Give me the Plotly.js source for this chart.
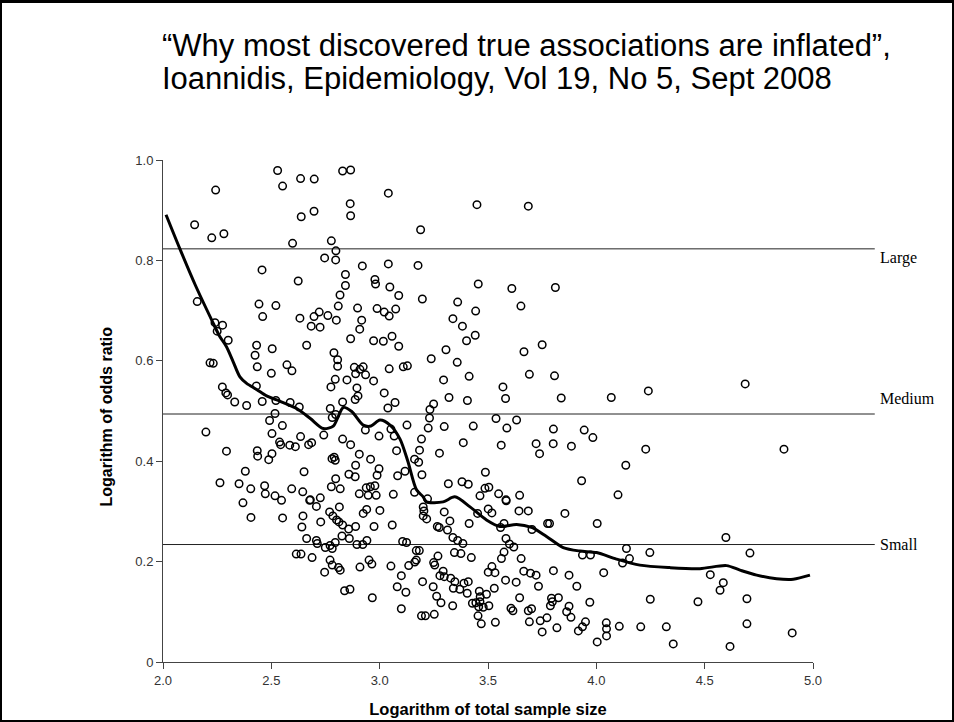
<!DOCTYPE html>
<html>
<head>
<meta charset="utf-8">
<script src="https://cdn.plot.ly/plotly-3.0.1.min.js"></script>
<style>
  html, body { margin: 0; padding: 0; background: #fff; }
  #wrap { position: relative; width: 954px; height: 722px; }
  #chart { width: 954px; height: 722px; }
  #frame { position: absolute; left: 0; top: 0; width: 954px; height: 722px; box-sizing: border-box;
           border-top: 3px solid #000; border-left: 2px solid #000; border-right: 2px solid #000; border-bottom: 2px solid #000; pointer-events: none; }
</style>
</head>
<body>
<div id="wrap"><div id="chart"></div><div id="frame"></div></div>
<script>
// Each study: log10 total sample size (x) and log odds ratio (y)
const sampleSizeLog = [
3.088,2.529,2.243,2.552,2.635,2.698,2.829,2.866,3.040,2.146,2.225,2.281,2.638,2.697,2.864,2.866,2.598,2.777,2.798,2.746,
2.797,2.920,3.040,2.457,2.624,2.842,2.842,2.978,2.981,3.047,3.088,2.817,2.158,2.443,2.521,2.809,2.898,2.988,3.021,3.044,
3.074,2.460,2.632,2.697,2.721,2.761,2.800,2.917,
3.449,3.686,3.189,3.177,3.455,3.610,3.811,3.197,3.360,3.443,3.652,3.338,
2.240,2.275,2.250,2.301,2.684,2.725,2.908,2.866,2.972,3.017,3.057,3.088,2.432,2.504,2.663,2.425,2.435,2.500,2.572,2.595,
2.217,2.232,2.789,2.806,2.806,2.883,2.924,2.909,2.889,2.935,3.044,2.795,2.849,2.972,2.775,2.895,2.900,2.887,3.021,3.071,
3.038,2.829,2.772,2.274,2.290,2.298,2.331,2.386,2.431,2.458,2.521,2.587,2.629,2.517,2.492,2.551,2.503,2.198,2.538,2.543,
2.585,2.611,2.635,2.672,2.686,2.742,2.781,2.797,2.829,2.866,2.934,2.997,3.052,3.067,3.078,2.293,2.435,2.437,2.503,2.488,
2.780,2.790,2.795,2.906,2.958,2.889,2.997,2.988,2.380,2.651,2.797,2.858,2.887,3.083,2.263,2.351,2.405,2.469,2.472,2.517,
2.594,2.645,2.726,2.680,2.777,2.818,2.906,2.938,2.957,2.978,2.947,2.984,3.063,2.547,
3.382,3.441,3.401,3.306,3.238,3.358,3.109,3.128,3.666,3.750,3.691,3.807,3.295,3.413,3.569,3.320,3.405,3.581,3.838,4.069,
3.249,3.232,3.230,3.126,3.224,3.298,3.432,3.537,3.632,3.587,3.802,3.944,3.984,3.193,3.386,3.561,3.722,3.801,3.738,3.885,
3.184,3.276,3.161,3.180,3.117,3.195,4.136,3.488,3.932,3.317,3.380,3.409,3.486,3.504,3.549,3.463,3.646,3.161,4.100,3.583,
4.240,4.687,4.228,4.866,
2.369,2.406,2.552,2.677,2.708,2.646,2.641,2.769,2.784,2.814,2.801,2.812,2.728,2.829,2.857,2.889,2.924,2.940,3.001,2.974,
3.058,2.663,2.708,2.712,2.749,2.771,2.781,2.795,2.826,2.860,2.895,2.922,2.941,2.615,2.637,2.688,2.771,2.781,2.810,2.818,
2.746,2.909,2.951,2.964,3.052,2.838,2.863,2.966,3.081,3.100,3.100,
3.221,3.201,3.204,3.201,3.217,3.298,3.324,3.266,3.275,3.313,3.413,3.584,3.643,3.686,3.501,3.518,3.452,3.855,3.574,3.558,
3.703,3.775,3.784,4.004,3.106,3.124,3.338,3.360,3.384,3.583,3.599,3.619,3.169,3.183,3.345,3.375,3.269,3.169,3.162,3.423,
3.574,3.562,3.653,3.936,3.973,4.139,4.153,4.121,3.134,3.249,3.254,3.293,3.278,3.298,3.328,3.347,3.340,3.370,3.389,3.409,
3.404,3.198,3.247,3.121,3.263,3.283,3.337,3.193,3.211,3.252,3.460,3.464,3.463,3.493,3.428,3.444,3.457,3.478,3.504,3.454,
3.469,3.534,3.529,3.501,3.518,3.532,3.581,3.630,3.665,3.696,3.722,3.733,3.802,3.874,3.910,4.034,3.646,3.606,3.615,3.686,
3.701,3.793,3.797,3.788,3.825,3.874,3.863,3.883,3.970,3.691,3.741,3.772,3.750,3.818,3.917,3.936,3.950,4.004,4.046,4.047,
4.047,4.106,4.205,
4.598,4.247,4.709,4.526,4.586,4.571,4.249,4.469,4.695,4.323,4.695,4.904,4.355,4.617
];
const oddsRatioLog = [
1.011,0.979,0.940,0.948,0.963,0.962,0.978,0.980,0.934,0.871,0.845,0.853,0.887,0.898,0.913,0.889,0.834,0.839,0.819,0.805,
0.801,0.789,0.793,0.781,0.759,0.772,0.750,0.762,0.753,0.747,0.730,0.731,0.718,0.713,0.710,0.709,0.705,0.704,0.697,0.689,
0.703,0.688,0.685,0.688,0.697,0.690,0.681,0.681,
0.911,0.908,0.861,0.790,0.753,0.744,0.746,0.723,0.717,0.699,0.709,0.684,
0.676,0.671,0.659,0.641,0.669,0.667,0.663,0.644,0.640,0.639,0.649,0.629,0.631,0.624,0.631,0.611,0.588,0.575,0.592,0.580,
0.596,0.595,0.616,0.602,0.589,0.587,0.588,0.583,0.574,0.572,0.584,0.563,0.562,0.560,0.548,0.546,0.530,0.523,0.536,0.517,
0.506,0.518,0.505,0.548,0.536,0.532,0.518,0.511,0.550,0.519,0.521,0.517,0.508,0.495,0.481,0.471,0.455,0.458,0.438,0.433,
0.432,0.429,0.449,0.433,0.437,0.452,0.487,0.493,0.444,0.433,0.462,0.450,0.464,0.450,0.421,0.420,0.421,0.410,0.415,0.403,
0.405,0.408,0.402,0.414,0.404,0.392,0.385,0.372,0.380,0.379,0.365,0.374,0.369,0.371,0.357,0.355,0.345,0.351,0.335,0.331,
0.345,0.339,0.327,0.323,0.349,0.345,0.335,0.347,0.349,0.351,0.332,0.332,0.334,0.322,
0.669,0.651,0.640,0.622,0.604,0.597,0.588,0.590,0.618,0.632,0.573,0.570,0.562,0.569,0.548,0.527,0.521,0.525,0.526,0.527,
0.514,0.503,0.486,0.472,0.466,0.469,0.470,0.485,0.482,0.466,0.464,0.462,0.447,0.444,0.437,0.432,0.435,0.435,0.415,0.430,
0.422,0.416,0.404,0.398,0.380,0.373,0.392,0.378,0.361,0.355,0.359,0.354,0.346,0.348,0.335,0.331,0.332,0.338,0.333,0.323,
0.540,0.554,0.424,0.424,
0.317,0.288,0.287,0.322,0.310,0.291,0.269,0.299,0.291,0.309,0.283,0.279,0.279,0.273,0.265,0.270,0.296,0.304,0.302,0.270,
0.273,0.246,0.242,0.236,0.228,0.232,0.226,0.238,0.251,0.246,0.234,0.234,0.242,0.215,0.215,0.208,0.203,0.193,0.188,0.183,
0.179,0.189,0.203,0.195,0.191,0.142,0.145,0.128,0.150,0.172,0.106,
0.325,0.309,0.301,0.291,0.285,0.299,0.281,0.270,0.268,0.263,0.276,0.321,0.301,0.301,0.305,0.297,0.296,0.296,0.276,0.268,
0.264,0.276,0.276,0.276,0.240,0.238,0.248,0.242,0.236,0.246,0.235,0.229,0.222,0.222,0.218,0.216,0.211,0.203,0.199,0.208,
0.219,0.206,0.206,0.213,0.213,0.226,0.206,0.197,0.192,0.198,0.193,0.181,0.172,0.170,0.167,0.160,0.147,0.145,0.157,0.160,
0.137,0.160,0.150,0.139,0.131,0.118,0.112,0.092,0.092,0.095,0.141,0.130,0.120,0.135,0.117,0.118,0.110,0.109,0.112,0.092,
0.076,0.079,0.147,0.179,0.190,0.178,0.163,0.159,0.181,0.177,0.173,0.151,0.182,0.173,0.151,0.178,0.128,0.107,0.102,0.102,
0.106,0.127,0.120,0.112,0.128,0.111,0.100,0.089,0.119,0.080,0.082,0.088,0.060,0.068,0.062,0.070,0.080,0.040,0.078,0.066,
0.052,0.071,0.070,
0.248,0.218,0.217,0.174,0.158,0.143,0.125,0.120,0.126,0.070,0.076,0.058,0.036,0.031
];

// Smoothed (loess) curve
const smoothX = [2.014,2.078,2.150,2.225,2.260,2.293,2.324,2.355,2.386,2.432,2.478,2.525,2.617,2.680,2.740,2.786,2.810,2.832,2.871,2.924,
  2.960,3.001,3.048,3.094,3.130,3.170,3.201,3.216,3.293,3.347,3.417,3.493,3.555,3.632,3.701,3.770,3.847,3.924,4.001,4.093,
  4.201,4.340,4.478,4.601,4.663,4.740,4.832,4.909,4.986];
const smoothY = [0.891,0.823,0.750,0.681,0.650,0.628,0.598,0.568,0.555,0.543,0.530,0.522,0.505,0.485,0.465,0.470,0.490,0.507,0.499,0.472,
  0.470,0.482,0.472,0.444,0.400,0.343,0.329,0.319,0.319,0.329,0.309,0.283,0.270,0.274,0.268,0.250,0.228,0.221,0.218,0.205,
  0.193,0.188,0.186,0.192,0.183,0.173,0.166,0.165,0.173];

// Effect-size thresholds
const thresholdNames = ['Large', 'Medium', 'Small'];
const thresholdValues = [0.823, 0.494, 0.234];

const titleLines = ['“Why most discovered true associations are inflated”,', 'Ioannidis, Epidemiology, Vol 19, No 5, Sept 2008'];

const xTickVals = [2.0, 2.5, 3.0, 3.5, 4.0, 4.5, 5.0];
const xTickText = ['2.0', '2.5', '3.0', '3.5', '4.0', '4.5', '5.0'];
const yTickVals = [0, 0.2, 0.4, 0.6, 0.8, 1.0];
const yTickText = ['0', '0.2', '0.4', '0.6', '0.8', '1.0'];

const lineEnd = 1.095; // thresholds run past the axis (paper units)

const shapes = thresholdValues.map(v => ({
  type: 'line', xref: 'paper', yref: 'y', x0: 0, x1: lineEnd, y0: v, y1: v,
  line: { color: '#222', width: 1 }, layer: 'below'
}));

const labelOffsets = [-9, 16, 0];
const annotations = thresholdNames.map((n, i) => ({
  text: n, xref: 'paper', yref: 'y', x: 1.100, y: thresholdValues[i], xanchor: 'left', yanchor: 'middle',
  yshift: labelOffsets[i], showarrow: false,
  font: { family: 'Liberation Serif, Times New Roman, serif', size: 16, color: '#000' }
}));

const titleY = [1.229, 1.163];
titleLines.forEach((t, i) => annotations.push({
  text: t, xref: 'paper', yref: 'paper', x: -0.004, y: titleY[i], xanchor: 'left', yanchor: 'middle', showarrow: false,
  font: { family: 'Liberation Sans, Arial, sans-serif', size: 31, color: '#000' }
}));

annotations.push({
  text: '<b>Logarithm of odds ratio</b>', xref: 'paper', yref: 'paper', x: -0.087, y: 0.49,
  xanchor: 'center', yanchor: 'middle', textangle: -90, showarrow: false,
  font: { family: 'Liberation Sans, Arial, sans-serif', size: 16, color: '#000' }
});

const traces = [
  {
    x: sampleSizeLog, y: oddsRatioLog, type: 'scatter', mode: 'markers',
    marker: { symbol: 'circle-open', size: 7.5, color: '#000', line: { width: 1.5, color: '#000' } },
    cliponaxis: false, hoverinfo: 'x+y'
  },
  {
    x: smoothX, y: smoothY, type: 'scatter', mode: 'lines',
    line: { color: '#000', width: 3, shape: 'spline', smoothing: 0.8 }, hoverinfo: 'skip'
  }
];

const layout = {
  width: 954, height: 722,
  margin: { l: 163, r: 141, t: 160, b: 60, pad: 0 },
  paper_bgcolor: '#fff', plot_bgcolor: '#fff',
  showlegend: false,
  xaxis: {
    range: [2.0, 5.0], tickvals: xTickVals, ticktext: xTickText,
    showgrid: false, zeroline: false, showline: true, linecolor: '#444', linewidth: 1,
    ticks: 'outside', ticklen: 6, tickcolor: '#444', tickwidth: 1,
    tickfont: { family: 'Liberation Sans Narrow, Liberation Sans, Arial, sans-serif', size: 13, color: '#333' },
    title: { text: '<b>Logarithm of total sample size</b>', standoff: 16,
      font: { family: 'Liberation Sans, Arial, sans-serif', size: 16.5, color: '#000' } }
  },
  yaxis: {
    range: [0, 1.0], tickvals: yTickVals, ticktext: yTickText,
    showgrid: false, zeroline: false, showline: true, linecolor: '#444', linewidth: 1,
    ticks: 'outside', ticklen: 6, tickcolor: '#444', tickwidth: 1,
    tickfont: { family: 'Liberation Sans Narrow, Liberation Sans, Arial, sans-serif', size: 13, color: '#333' }
  },
  shapes: shapes,
  annotations: annotations
};

Plotly.newPlot('chart', traces, layout, { displayModeBar: false, staticPlot: true });
</script>
</body>
</html>
